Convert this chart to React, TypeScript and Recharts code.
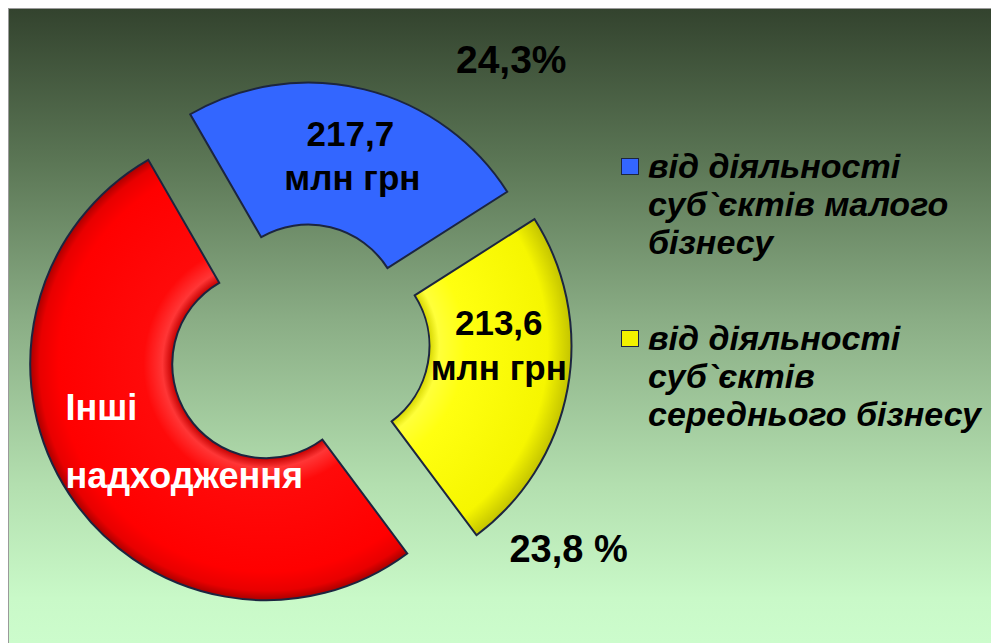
import React from 'react';
import { PieChart, Pie, Cell, Legend } from 'recharts';

// ---- data ----
const categories = [
  'від діяльності суб`єктів малого бізнесу',
  'від діяльності суб`єктів середнього бізнесу',
  'Інші надходження',
];
const amounts = [217.7, 213.6, 464.6]; // млн грн (third estimated from shares)
const amountLabels = ['217,7', '213,6', ''];
const unitLabel = 'млн грн';
const percentLabels = ['24,3%', '23,8 %', ''];
const otherLabelLines = ['Інші', 'надходження'];
const legendLines = [
  ['від діяльності', 'суб`єктів малого', 'бізнесу'],
  ['від діяльності', 'суб`єктів', 'середнього бізнесу'],
];

// ---- styles ----
const W = 991;
const H = 635;
const CX = 294;
const CY = 332;
const OUTER = 236;
const INNER = 94;
const START = 120;
const END = -240;
const EXPLODE = [22, 33, 44];
const FILLS = ['#3366ff', 'url(#gradYellow)', 'url(#gradRed)'];
const LEGEND_COLORS = ['#3366ff', '#f2f200'];
const OUTLINE = '#1c2540';
const FONT = '"Liberation Sans", Arial, sans-serif';

const data = categories.map((name, i) => ({ name, value: amounts[i] }));

const RAD = Math.PI / 180;
const total = amounts.reduce((a, b) => a + b, 0);
const offsets = amounts.map((v, i) => {
  const before = amounts.slice(0, i).reduce((a, b) => a + b, 0);
  const mid = START - ((before + v / 2) / total) * (START - END);
  return { dx: EXPLODE[i] * Math.cos(mid * RAD), dy: -EXPLODE[i] * Math.sin(mid * RAD) };
});

const polar = (cx: number, cy: number, r: number, a: number) => ({
  x: cx + r * Math.cos(-a * RAD),
  y: cy + r * Math.sin(-a * RAD),
});

const makeLabel = (pieIndex: number) => (props: any) => {
  if (props.index !== pieIndex) return null;
  const { cx, cy, midAngle, innerRadius, outerRadius } = props;
  const m = polar(cx, cy, (innerRadius + outerRadius) / 2, midAngle);
  const o = polar(cx, cy, outerRadius, midAngle);
  if (pieIndex === 0) {
    return (
      <g fontFamily={FONT} fontWeight="bold" fill="#000">
        <text x={m.x + 3} y={m.y - 12} textAnchor="middle" fontSize={35}>{amountLabels[0]}</text>
        <text x={m.x + 5} y={m.y + 32} textAnchor="middle" fontSize={35}>{unitLabel}</text>
        <text x={o.x + 147} y={o.y - 16} textAnchor="middle" fontSize={39}>{percentLabels[0]}</text>
      </g>
    );
  }
  if (pieIndex === 1) {
    return (
      <g fontFamily={FONT} fontWeight="bold" fill="#000">
        <text x={m.x + 1} y={m.y - 41} textAnchor="middle" fontSize={35}>{amountLabels[1]}</text>
        <text x={m.x + 1} y={m.y + 4} textAnchor="middle" fontSize={35}>{unitLabel}</text>
        <text x={o.x + 1} y={o.y + 173} textAnchor="middle" fontSize={38}>{percentLabels[1]}</text>
      </g>
    );
  }
  return (
    <g fontFamily={FONT} fontWeight="bold" fill="#ffffff">
      <text x={m.x - 63} y={m.y - 35} textAnchor="start" fontSize={36}>{otherLabelLines[0]}</text>
      <text x={m.x - 63} y={m.y + 33} textAnchor="start" fontSize={36}>{otherLabelLines[1]}</text>
    </g>
  );
};

const renderLegend = () => (
  <div style={{ fontFamily: FONT, fontWeight: 'bold', fontStyle: 'italic', fontSize: 34, lineHeight: '38px', color: '#000' }}>
    {legendLines.map((lines, i) => (
      <div key={i} style={{ position: 'relative', paddingLeft: 27, marginBottom: i === 0 ? 58 : 0 }}>
        <div
          style={{
            position: 'absolute',
            left: 0,
            top: 11,
            width: 16,
            height: 15,
            background: LEGEND_COLORS[i],
            border: `1.5px solid ${OUTLINE}`,
          }}
        />
        {lines.map((l, k) => (
          <div key={k} style={{ whiteSpace: 'nowrap' }}>{l}</div>
        ))}
      </div>
    ))}
  </div>
);

export default function App() {
  return (
    <div
      style={{
        width: W,
        height: H,
        position: 'relative',
        boxSizing: 'border-box',
        borderTop: '1px solid #9a9a9a',
        borderLeft: '1px solid #9a9a9a',
        background:
          'linear-gradient(to bottom, #33432e 0%, #5b7655 24%, #8aad85 49%, #b3dfaf 75%, #c9f9c8 93%, #ccfccc 100%)',
      }}
    >
      <PieChart width={W - 1} height={H - 1} margin={{ top: 0, right: 0, bottom: 0, left: 0 }}>
        <defs>
          {offsets.map((o, i) => (
            <radialGradient
              key={i}
              id={i === 1 ? 'gradYellow' : i === 2 ? 'gradRed' : 'gradBlue'}
              gradientUnits="userSpaceOnUse"
              cx={CX + o.dx}
              cy={CY + o.dy - 1}
              r={OUTER}
            >
              {i === 1 ? (
                <>
                  <stop offset={0.398} stopColor="#d6d600" />
                  <stop offset={0.44} stopColor="#ffff3a" />
                  <stop offset={0.55} stopColor="#ffff10" />
                  <stop offset={0.9} stopColor="#f6f600" />
                  <stop offset={1} stopColor="#c4c400" />
                </>
              ) : i === 2 ? (
                <>
                  <stop offset={0.398} stopColor="#c40000" />
                  <stop offset={0.44} stopColor="#ff3636" />
                  <stop offset={0.52} stopColor="#ff0a0a" />
                  <stop offset={0.88} stopColor="#ff0000" />
                  <stop offset={0.96} stopColor="#e80000" />
                  <stop offset={1} stopColor="#a80000" />
                </>
              ) : (
                <>
                  <stop offset={0} stopColor="#3366ff" />
                  <stop offset={1} stopColor="#3366ff" />
                </>
              )}
            </radialGradient>
          ))}
        </defs>
        {offsets.map((o, i) => (
          <Pie
            key={i}
            data={data}
            dataKey="value"
            nameKey="name"
            cx={CX + o.dx}
            cy={CY + o.dy - 1}
            innerRadius={INNER}
            outerRadius={OUTER}
            startAngle={START}
            endAngle={END}
            paddingAngle={0}
            isAnimationActive={false}
            labelLine={false}
            label={makeLabel(i)}
          >
            {data.map((d, j) => (
              <Cell
                key={j}
                fill={j === i ? FILLS[i] : 'none'}
                stroke={j === i ? OUTLINE : 'none'}
                strokeWidth={j === i ? 2 : 0}
              />
            ))}
          </Pie>
        ))}
        <Legend
          content={renderLegend}
          wrapperStyle={{ position: 'absolute', left: 612, top: 138, width: 375 }}
        />
      </PieChart>
    </div>
  );
}
